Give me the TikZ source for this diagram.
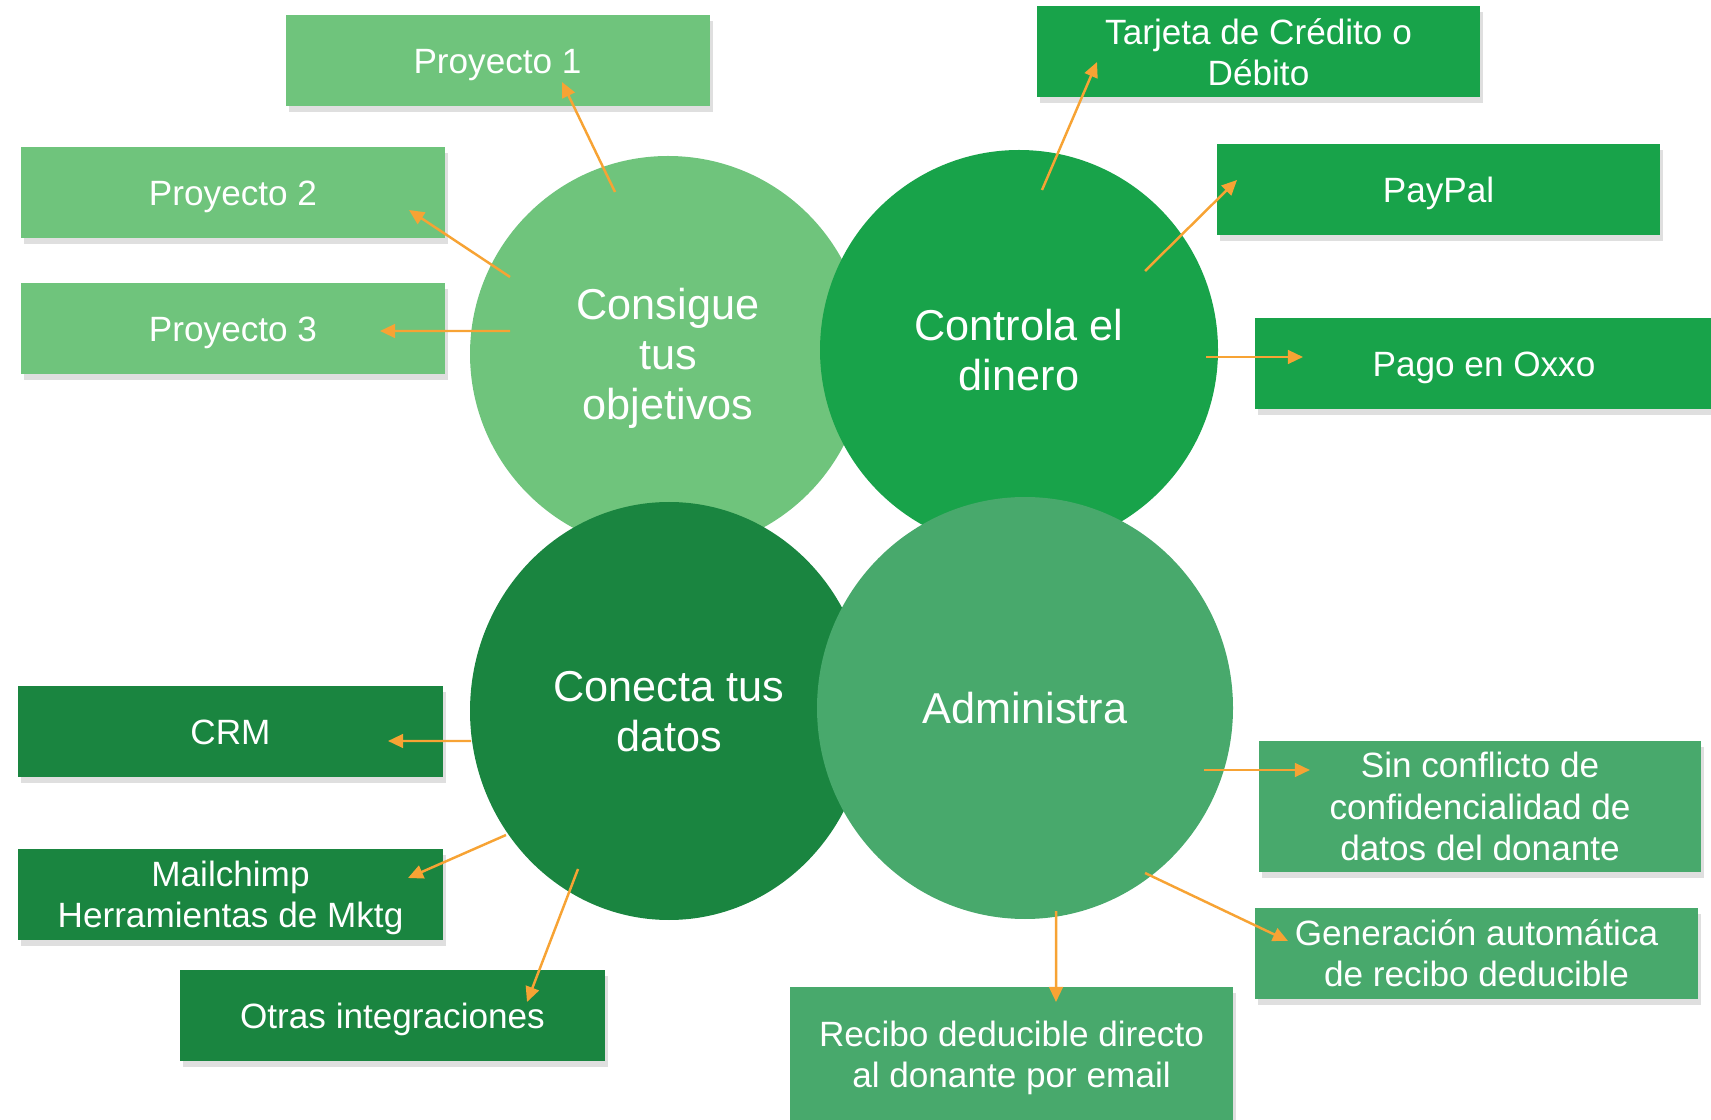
\documentclass[tikz,border=0pt]{standalone}
\usepackage{fontspec}
\setmainfont{Liberation Sans}
\usepackage{tikz}
\usetikzlibrary{arrows.meta, shapes.geometric, shadows}

\definecolor{verdeclaro}{HTML}{6FC47C}
\definecolor{verde}{HTML}{18A34A}
\definecolor{verdeosc}{HTML}{1A8540}
\definecolor{verdemed}{HTML}{48A96C}
\definecolor{naranja}{HTML}{F7A334}
% puntal: centra las mayusculas en la caja
\newcommand{\puntal}{\rule[-0.21em]{0pt}{1.136em}}

\begin{document}
\begin{tikzpicture}[x=0.1mm,y=-0.1mm,->,>={Triangle[length=4.3pt,width=3.9pt]},line width=0.7pt,
    goal/.style={ellipse, fill=#1, text=white, inner sep=0pt, align=center, font=\fontsize{12.3}{14.2}\selectfont},
    box/.style={rectangle, fill=#1, text=white, inner sep=0pt, align=center, minimum height=9.1mm,
      font=\fontsize{10}{11.7}\selectfont, drop shadow={shadow xshift=0.3mm, shadow yshift=-0.6mm, opacity=0.25}}]
  \useasboundingbox (0,0) rectangle (1711,1120);
  % circulos
  \node[goal=verdeclaro, minimum width=39.6mm, minimum height=39.6mm] (cons) at (668,354) {\puntal Consigue\\tus\\objetivos\puntal};
  \node[goal=verde, minimum width=39.8mm, minimum height=40mm] (ctrl) at (1019,350) {\puntal Controla el\\dinero\puntal};
  \node[goal=verdeosc, minimum width=39.8mm, minimum height=41.8mm] (conn) at (669,711) {\puntal Conecta tus\\datos\puntal};
  \node[goal=verdemed, minimum width=41.6mm, minimum height=42.2mm] (adm) at (1025,708) {\puntal Administra};
  % cajas
  \node[box=verdeclaro, minimum width=42.4mm] (p1) at (497.5,60.5) {\puntal Proyecto 1};
  \node[box=verdeclaro, minimum width=42.4mm] (p2) at (233,192.5) {\puntal Proyecto 2};
  \node[box=verdeclaro, minimum width=42.4mm] (p3) at (233,328.5) {\puntal Proyecto 3};
  \node[box=verde, minimum width=44.3mm] (tarj) at (1258.5,52) {\puntal Tarjeta de Crédito o\\Débito\puntal};
  \node[box=verde, minimum width=44.3mm] (pay) at (1438.5,189.5) {\puntal PayPal};
  \node[box=verde, minimum width=45.8mm] (oxxo) at (1484,363.5) {\puntal Pago en Oxxo};
  \node[box=verdeosc, minimum width=42.5mm] (crm) at (230.5,731.5) {\puntal CRM};
  \node[box=verdeosc, minimum width=42.5mm] (mail) at (230.5,894.5) {\puntal Mailchimp\\Herramientas de Mktg\puntal};
  \node[box=verdeosc, minimum width=42.5mm] (otras) at (392.5,1015.5) {\puntal Otras integraciones};
  \node[box=verdemed, minimum width=44.2mm, minimum height=13.1mm] (sin) at (1480,806.5) {\puntal Sin conflicto de\\confidencialidad de\\datos del donante\puntal};
  \node[box=verdemed, minimum width=44.3mm] (gen) at (1476.5,953.5) {\puntal Generación automática\\de recibo deducible\puntal};
  \node[box=verdemed, minimum width=44.3mm, minimum height=13.4mm] (rec) at (1011.5,1054) {\puntal Recibo deducible directo\\al donante por email\puntal};
  % flechas
  \draw[naranja] ([shift={(-53,-162)}]cons.center) -- ([shift={(64.5,21.5)}]p1.center);
  \draw[naranja] ([shift={(-158,-77)}]cons.center) -- ([shift={(176,17.5)}]p2.center);
  \draw[naranja] ([shift={(-158,-23)}]cons.center) -- ([shift={(147,2.5)}]p3.center);
  \draw[naranja] ([shift={(23,-160)}]ctrl.center) -- ([shift={(-161.5,10)}]tarj.center);
  \draw[naranja] ([shift={(126,-79)}]ctrl.center) -- ([shift={(-201.5,-9.5)}]pay.center);
  \draw[naranja] ([shift={(187,7)}]ctrl.center) -- ([shift={(-181,-6.5)}]oxxo.center);
  \draw[naranja] ([shift={(-198,30)}]conn.center) -- ([shift={(157.5,9.5)}]crm.center);
  \draw[naranja] ([shift={(-163,124)}]conn.center) -- ([shift={(177.5,-16.5)}]mail.center);
  \draw[naranja] ([shift={(-91,158)}]conn.center) -- ([shift={(134.5,-13.5)}]otras.center);
  \draw[naranja] ([shift={(179,62)}]adm.center) -- ([shift={(-170,-36.5)}]sin.center);
  \draw[naranja] ([shift={(120,165)}]adm.center) -- ([shift={(-188.5,-12.5)}]gen.center);
  \draw[naranja] ([shift={(31,203)}]adm.center) -- ([shift={(44.5,-52)}]rec.center);
\end{tikzpicture}
\end{document}
